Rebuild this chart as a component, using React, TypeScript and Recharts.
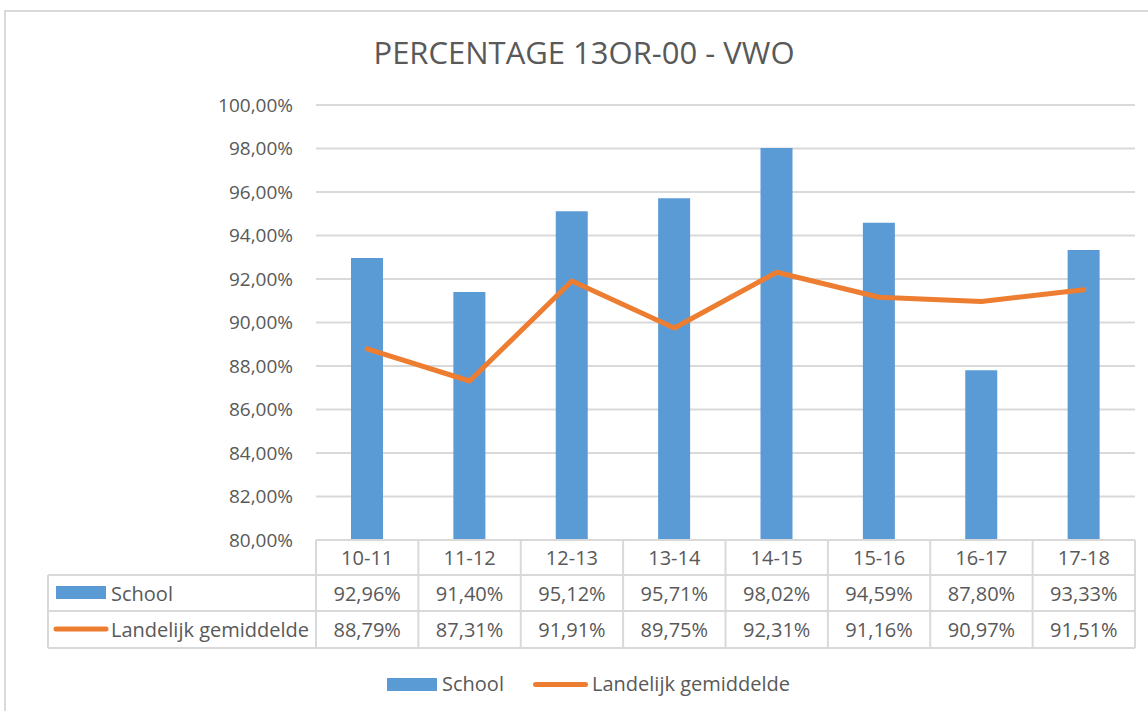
import { ComposedChart, Bar, Line, XAxis, YAxis, CartesianGrid, Legend } from "recharts";

const CATEGORIES = ["10-11", "11-12", "12-13", "13-14", "14-15", "15-16", "16-17", "17-18"];
const SCHOOL = [0.9296, 0.914, 0.9512, 0.9571, 0.9802, 0.9459, 0.878, 0.9333];
const LANDELIJK = [0.8879, 0.8731, 0.9191, 0.8975, 0.9231, 0.9116, 0.9097, 0.9151];
const Y_TICKS = [0.8, 0.82, 0.84, 0.86, 0.88, 0.9, 0.92, 0.94, 0.96, 0.98, 1.0];

const BLUE = "#5b9bd5";
const ORANGE = "#ed7d31";
const TEXT = "#595959";
const GRID = "#d9d9d9";
const FONT = "'Open Sans', sans-serif";

const data = CATEGORIES.map((c, i) => ({ name: c, school: SCHOOL[i], landelijk: LANDELIJK[i] }));

const pct = (v: number) => (v * 100).toFixed(2).replace(".", ",") + "%";

const TABLE_LEFT = 48;
const ROWS = [0, 35, 71, 108];

function TableTick(props: any) {
  const { x, y, payload, index } = props;
  const band = props.width && props.visibleTicksCount ? props.width / props.visibleTicksCount : 102.4;
  const left = x - band / 2;
  const right = x + band / 2;
  const row = data[index];
  return (
    <g>
      <line x1={right} x2={right} y1={y} y2={y + ROWS[3]} stroke={GRID} strokeWidth={2} />
      {index === 0 && (
        <g>
          <line x1={left} x2={left} y1={y} y2={y + ROWS[3]} stroke={GRID} strokeWidth={2} />
          <line x1={TABLE_LEFT} x2={TABLE_LEFT} y1={y + ROWS[1]} y2={y + ROWS[3]} stroke={GRID} strokeWidth={2} />
          {[1, 2, 3].map((r) => (
            <line key={r} x1={TABLE_LEFT} x2={left} y1={y + ROWS[r]} y2={y + ROWS[r]} stroke={GRID} strokeWidth={2} />
          ))}
          <rect x={56} y={y + 46} width={50} height={13} fill={BLUE} />
          <text x={111} y={y + 53} dominantBaseline="central" fontSize={20} fill={TEXT} fontFamily={FONT}>
            School
          </text>
          <line x1={56} x2={106} y1={y + 89} y2={y + 89} stroke={ORANGE} strokeWidth={5} strokeLinecap="round" />
          <text x={111} y={y + 89.5} dominantBaseline="central" fontSize={20} fill={TEXT} fontFamily={FONT}>
            Landelijk gemiddelde
          </text>
        </g>
      )}
      {[1, 2, 3].map((r) => (
        <line key={r} x1={left} x2={right} y1={y + ROWS[r]} y2={y + ROWS[r]} stroke={GRID} strokeWidth={2} />
      ))}
      <text x={x} y={y + 17.5} textAnchor="middle" dominantBaseline="central" fontSize={20} fill={TEXT} fontFamily={FONT}>
        {payload.value}
      </text>
      <text x={x} y={y + 53} textAnchor="middle" dominantBaseline="central" fontSize={20} fill={TEXT} fontFamily={FONT}>
        {pct(row.school)}
      </text>
      <text x={x} y={y + 89.5} textAnchor="middle" dominantBaseline="central" fontSize={20} fill={TEXT} fontFamily={FONT}>
        {pct(row.landelijk)}
      </text>
    </g>
  );
}

function BottomLegend() {
  return (
    <div style={{ position: "relative", height: 30, fontFamily: FONT, fontSize: 20, color: TEXT, lineHeight: "30px" }}>
      <div style={{ position: "absolute", left: 387, top: 9, width: 50, height: 13, background: BLUE }} />
      <span style={{ position: "absolute", left: 442, top: 0 }}>School</span>
      <div style={{ position: "absolute", left: 533, top: 13, width: 55, height: 5, borderRadius: 3, background: ORANGE }} />
      <span style={{ position: "absolute", left: 592, top: 0 }}>Landelijk gemiddelde</span>
    </div>
  );
}

export default function App() {
  return (
    <div style={{ position: "absolute", left: 0, top: 0, width: 1148, height: 711, overflow: "hidden", background: "#fff" }}>
      <div style={{ position: "absolute", left: 4, top: 10, width: 1200, height: 800, border: `2px solid ${GRID}` }} />
      <div
        style={{
          position: "absolute",
          left: 0,
          width: 1168,
          top: 31,
          textAlign: "center",
          fontFamily: FONT,
          fontSize: 31,
          lineHeight: "42px",
          color: TEXT,
        }}
      >
        PERCENTAGE 13OR-00 - VWO
      </div>
      <div style={{ position: "absolute", left: 0, top: 0 }}>
        <ComposedChart width={1148} height={711} data={data} margin={{ top: 105, right: 13, left: 200, bottom: 33 }}>
          <CartesianGrid vertical={false} stroke={GRID} strokeWidth={2} />
          <XAxis
            dataKey="name"
            axisLine={{ stroke: GRID, strokeWidth: 2 }}
            tickLine={false}
            tickSize={0}
            tickMargin={0}
            height={108}
            interval={0}
            tick={<TableTick />}
          />
          <YAxis
            domain={[0.8, 1.0]}
            ticks={Y_TICKS}
            width={116}
            axisLine={false}
            tickLine={false}
            tickSize={0}
            tickMargin={23}
            tickFormatter={pct}
            tick={{ fontSize: 19, fill: TEXT, fontFamily: FONT }}
          />
          <Bar dataKey="school" name="School" fill={BLUE} barSize={32} isAnimationActive={false} />
          <Line
            dataKey="landelijk"
            name="Landelijk gemiddelde"
            stroke={ORANGE}
            strokeWidth={5}
            dot={false}
            strokeLinecap="round"
            strokeLinejoin="round"
            isAnimationActive={false}
          />
          <Legend verticalAlign="bottom" content={<BottomLegend />} wrapperStyle={{ left: 0, top: 669, width: 1148 }} />
        </ComposedChart>
      </div>
    </div>
  );
}
